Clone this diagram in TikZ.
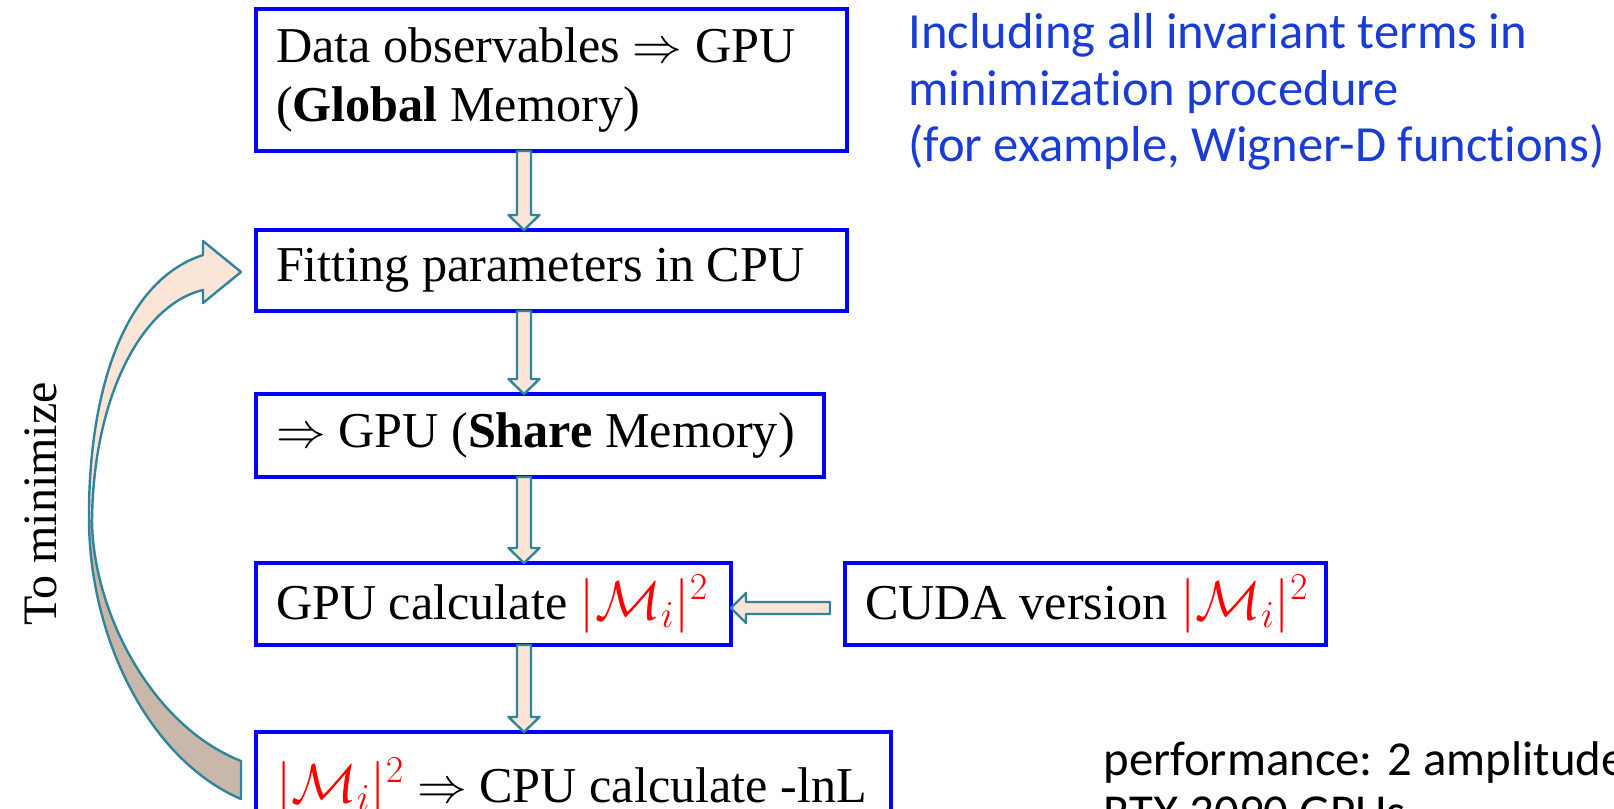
\documentclass[tikz,border=0pt]{standalone}
\usepackage{fontspec}
\setmainfont{Liberation Serif}
\newfontfamily\notefont[RawFeature=-liga]{Carlito}
\usetikzlibrary{calc}

\definecolor{boxblue}{RGB}{0,0,255}
\definecolor{arrowedge}{RGB}{49,133,155}
\definecolor{arrowpink}{RGB}{251,229,214}
\definecolor{arrowbrown}{RGB}{201,183,170}
\definecolor{noteblue}{RGB}{25,60,215}
\definecolor{mred}{RGB}{255,0,0}

% squared amplitude, printed in red
\newcommand\Msq{\textcolor{mred}{\scalebox{1.1}{$|\mathcal{M}_i|^2$}}}
% one left-aligned line of a given width inside a box
\newcommand\boxline[2]{\makebox[#1][l]{#2}}

% straight block arrow pointing down from one box to the next
\newcommand\flowdown[2]{%
  \draw[blockarrow] let \p1=(#1.south -| ax), \p2=(#2.north -| ax) in
    (\x1-3.5pt,\y1) -- (\x1+3.5pt,\y1) -- (\x1+3.5pt,\y2+7.5pt)
    -- (\x1+7.75pt,\y2+7.5pt) -- (\x1,\y2) -- (\x1-7.75pt,\y2+7.5pt)
    -- (\x1-3.5pt,\y2+7.5pt) -- cycle;}

\begin{document}
\begin{tikzpicture}[x=0.5pt,y=-0.5pt,
  flowbox/.style={draw=boxblue, line width=2pt, anchor=north west,
    outer sep=0pt, inner xsep=10pt, inner ysep=0pt, align=left,
    font=\fontsize{25.1}{29.5}\selectfont},
  blockarrow/.style={draw=arrowedge, fill=arrowpink, line width=1.2pt,
    line join=round},
  notetext/.style={anchor=base west, inner sep=0pt,
    font=\notefont\fontsize{25.3}{28.3}\selectfont}]

\useasboundingbox (0,0) rectangle (1614,809);
\clip (0,0) rectangle (1614,809);
\fill[white] (0,0) rectangle (1614,809);

% flow boxes
\node[flowbox, minimum height=71pt] (b1) at (256,9)
  {\boxline{275.5pt}{Data observables $\Rightarrow$ GPU}\\
   \boxline{275.5pt}{(\textbf{Global} Memory)}};
\node[flowbox, minimum height=40.5pt] (b2) at (256,230)
  {\boxline{275.5pt}{Fitting parameters in CPU}};
\node[flowbox, minimum height=41.5pt] (b3) at (256,394)
  {\boxline{264pt}{$\Rightarrow$ GPU (\textbf{Share} Memory)}};
\node[flowbox, minimum height=41pt] (b4) at (256,563)
  {\boxline{217.5pt}{GPU calculate \Msq}};
\node[flowbox, minimum height=41pt] (b5) at (845,563)
  {\boxline{220.5pt}{CUDA version \Msq}};
\node[flowbox, minimum height=55pt] (b6) at (256,732)
  {\boxline{297.5pt}{\Msq{} $\Rightarrow$ CPU calculate -lnL}};

% vertical connectors
\coordinate (ax) at (524,0);
\flowdown{b1}{b2}
\flowdown{b2}{b3}
\flowdown{b3}{b4}
\flowdown{b4}{b6}

% CUDA version feeding the GPU calculation
\draw[blockarrow] let \p1=($(b5.west)+(-15,4)$), \p2=(b4.east) in
  (\x1,\y1+3pt) -- (\x2+7.5pt,\y1+3pt) -- (\x2+7.5pt,\y1+7.5pt) -- (\x2,\y1)
  -- (\x2+7.5pt,\y1-7.5pt) -- (\x2+7.5pt,\y1-3pt) -- (\x1,\y1-3pt) -- cycle;

% feedback loop: lower (back) half of the curved ribbon
\draw[draw=arrowedge, fill=arrowbrown, line width=1.2pt, line join=round]
  (89,521) .. controls (90,640) and (150,760) .. (241,799)
  -- (241,761) .. controls (150,725) and (93,610) .. (92,521) -- cycle;
% upper (front) half with the arrow head
\draw[blockarrow]
  (89,521) .. controls (88,400) and (120,282) .. (203,255)
  -- (203,241) -- (241,272) -- (203,303) -- (203,290)
  .. controls (140,305) and (93,400) .. (92,521) -- cycle;

\node[rotate=90, font=\fontsize{24}{28}\selectfont] (loop) at (41,504)
  {To minimize};

% notes
\node[notetext, text=noteblue] (note1) at (908,48)
  {Including all invariant terms in};
\node[notetext, text=noteblue] (note2) at (908,105)
  {minimization procedure};
\node[notetext, text=noteblue] (note3) at (908,161)
  {(for example, Wigner-D functions)};
\node[notetext, font=\notefont\fontsize{24.4}{28}\selectfont] (perf1)
  at (1103,775) {performance: 2 amplitude};
\node[notetext, font=\notefont\fontsize{24.4}{28}\selectfont] (perf2)
  at (1103,828) {RTX 3090 GPUs};
\end{tikzpicture}
\end{document}
